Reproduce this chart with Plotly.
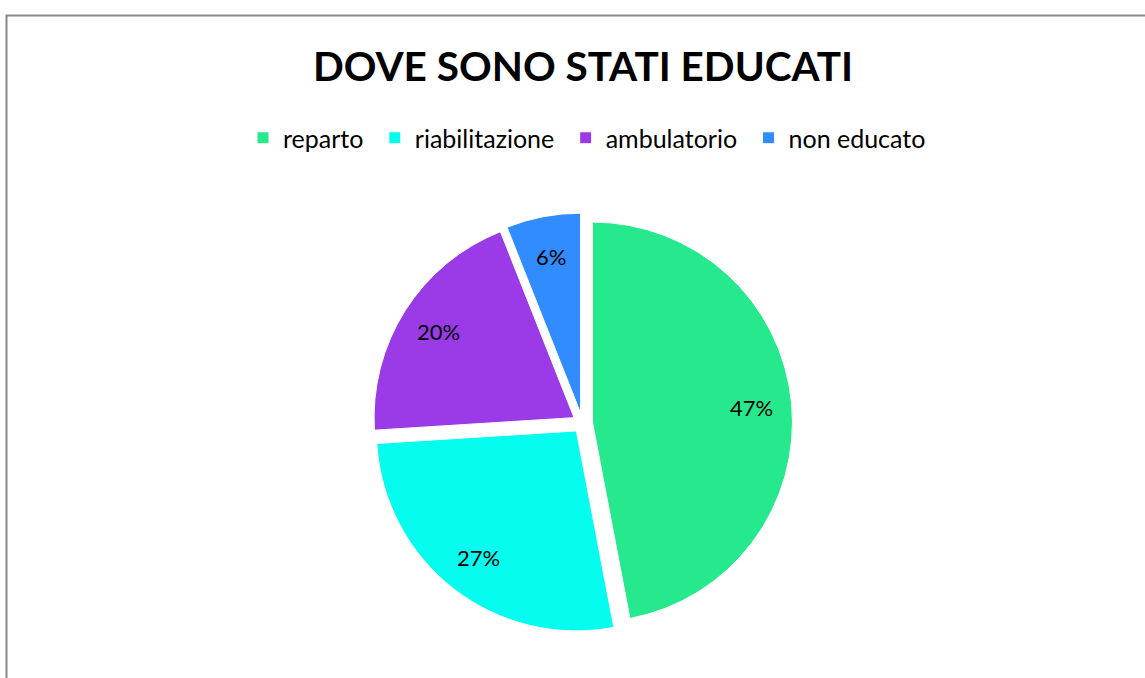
import math
import plotly.graph_objects as go

categories = ["reparto", "riabilitazione", "ambulatorio", "non educato"]
values = [47, 27, 20, 6]
colors = ["#26E88C", "#05FDEF", "#9B3BE8", "#318CFF"]

W, H = 1145, 678
FONT = "Lato"
PULL = 0.05
DOM_X = [372.5 / W, 792.5 / W]
DOM_Y = [45 / H, 465 / H]

# legend names with a little extra spacing between entries (as in the original)
legend_names = [c + "&nbsp;" if i < len(categories) - 1 else c
                for i, c in enumerate(categories)]

fig = go.Figure()
fig.add_trace(go.Pie(
    labels=legend_names,
    values=values,
    marker=dict(colors=colors, line=dict(color="white", width=1)),
    sort=False,
    direction="clockwise",
    rotation=0,
    pull=[PULL] * len(values),
    textinfo="none",
    domain=dict(x=DOM_X, y=DOM_Y),
    hovertemplate="%{label}: %{percent:.0%}<extra></extra>",
    showlegend=True,
))

# percentage labels placed along each slice's bisector (outer part of slice)
total = sum(values)
cx_px = (DOM_X[0] + DOM_X[1]) / 2 * W
cy_px = (DOM_Y[0] + DOM_Y[1]) / 2 * H
r_px = (DOM_X[1] - DOM_X[0]) * W / 2 / (1 + PULL)
cum = 0
for v in values:
    mid = (cum + v / 2) / total * 2 * math.pi
    cum += v
    d = r_px * (0.80 + PULL)
    x = cx_px + d * math.sin(mid)
    y = cy_px + d * math.cos(mid)
    fig.add_annotation(x=x / W, y=y / H, xref="paper", yref="paper",
                       text=f"{round(v / total * 100)}%", showarrow=False,
                       xanchor="center", yanchor="middle",
                       font=dict(family=FONT, size=22, color="black"))

fig.add_shape(type="rect", xref="paper", yref="paper",
              x0=6.5 / W, x1=1.02, y0=-0.02, y1=1 - 15.5 / H,
              line=dict(color="#888888", width=2), fillcolor="rgba(0,0,0,0)")

fig.update_layout(
    width=W, height=H,
    margin=dict(l=0, r=0, t=0, b=0),
    paper_bgcolor="white",
    plot_bgcolor="white",
    title=dict(text="<b>DOVE SONO STATI EDUCATI</b>", x=583 / W, xanchor="center",
               y=1 - 67 / H, yanchor="middle",
               font=dict(family=FONT, size=40.5, color="black")),
    legend=dict(orientation="h", x=587 / W, xanchor="center", y=1 - 138 / H, yanchor="middle",
                font=dict(family=FONT, size=25, color="black"),
                itemwidth=30, traceorder="normal"),
)

fig.write_html("out.html")
